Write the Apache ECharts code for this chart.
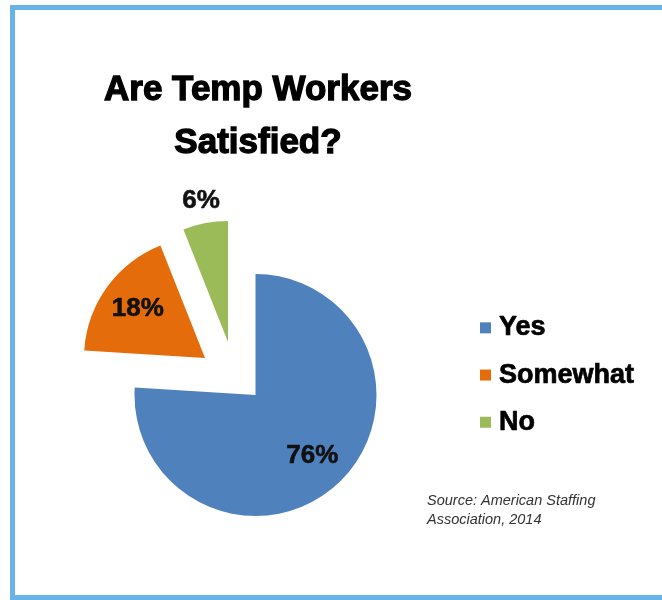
<!DOCTYPE html>
<html>
<head>
<meta charset="utf-8">
<script src="https://cdn.jsdelivr.net/npm/echarts@6/dist/echarts.min.js"></script>
<style>
  html, body { margin: 0; padding: 0; background: #fff; overflow: hidden; }
  #chart { width: 662px; height: 600px; }
  #frame {
    position: absolute; left: 10px; top: 5px; width: 720px; height: 595px;
    box-sizing: border-box; border: 5px solid #68b4e9; pointer-events: none;
  }
</style>
</head>
<body>
<div id="chart"></div>
<div id="frame"></div>
<script>
// survey answers
const categories = ['Yes', 'Somewhat', 'No'];
const values = [76, 18, 6];
const colors = ['#4f81bd', '#e46c0a', '#9bbb59'];

// exploded slice placement (center of each piece) and label distance from it
const sliceCenters = [[255.5, 395], [205, 358], [228, 342]];
const labelDist = [80, 80, 141];
const R = 121;

const font = '"Liberation Sans", Arial, sans-serif';
const clear = 'rgba(0,0,0,0)';

const chart = echarts.init(document.getElementById('chart'));

function pieData(k, showLabel) {
  return categories.map((name, i) => ({
    name: name,
    value: values[i],
    itemStyle: { color: (i === k && !showLabel) ? colors[i] : clear, borderWidth: 0 },
    label: { show: showLabel && i === k }
  }));
}

const series = [];
categories.forEach((name, k) => {
  // the slice itself
  series.push({
    type: 'pie',
    center: sliceCenters[k],
    radius: [0, R],
    startAngle: 90,
    clockwise: true,
    silent: true,
    animation: false,
    label: { show: false },
    labelLine: { show: false },
    emphasis: { disabled: true },
    data: pieData(k, false)
  });
  // thin invisible ring that carries the percentage label
  series.push({
    type: 'pie',
    center: sliceCenters[k],
    radius: [labelDist[k] - 1, labelDist[k] + 1],
    startAngle: 90,
    clockwise: true,
    silent: true,
    animation: false,
    label: {
      position: 'inside',
      formatter: '{c}%',
      fontFamily: font,
      fontWeight: 'bold',
      fontSize: 26,
      color: '#111',
      textBorderColor: '#111',
      textBorderWidth: 0.6
    },
    labelLine: { show: false },
    emphasis: { disabled: true },
    data: pieData(k, true)
  });
});

const option = {
  backgroundColor: '#fff',
  title: [
    {
      text: 'Are Temp Workers\nSatisfied?',
      left: 258,
      top: 64,
      padding: 0,
      textAlign: 'center',
      textStyle: {
        fontFamily: font,
        fontWeight: 'bold',
        fontSize: 35,
        lineHeight: 53,
        color: '#000',
        textBorderColor: '#000',
        textBorderWidth: 1.3
      }
    },
    {
      text: 'Source: American Staffing\nAssociation, 2014',
      left: 427,
      top: 492,
      padding: 0,
      textStyle: {
        fontFamily: font,
        fontStyle: 'italic',
        fontWeight: 'normal',
        fontSize: 14.5,
        lineHeight: 18.5,
        color: '#333'
      }
    }
  ],
  legend: {
    orient: 'vertical',
    left: 480,
    top: 314,
    padding: 0,
    itemWidth: 17,
    itemHeight: 11,
    itemGap: 19.5,
    icon: 'path://M0,0h11v11h-11z',
    selectedMode: false,
    data: categories.map((name, i) => ({ name: name, itemStyle: { color: colors[i] } })),
    textStyle: {
      fontFamily: font,
      fontWeight: 'bold',
      fontSize: 27,
      lineHeight: 26,
      color: '#000',
      textBorderColor: '#000',
      textBorderWidth: 0.7
    }
  },
  series: series
};

chart.setOption(option);
</script>
</body>
</html>
